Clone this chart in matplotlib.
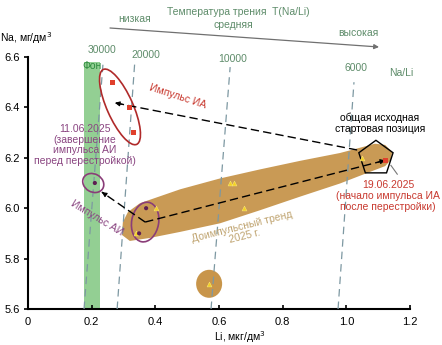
import matplotlib
matplotlib.use("Agg")
import matplotlib.pyplot as plt
from matplotlib.patches import Ellipse, Polygon, RegularPolygon, Rectangle
from matplotlib.transforms import ScaledTranslation

plt.rcParams['font.family'] = ['Liberation Sans', 'DejaVu Sans']

# --- data ---
ia_li = [0.264, 0.320, 0.330, 1.122]          # pulse IA, red squares
ia_na = [6.50, 6.40, 6.30, 6.19]
ai_li = [0.371, 0.349, 0.210]                 # pulse AI, purple dots
ai_na = [6.00, 5.90, 6.10]
pre_li = [0.402, 0.339, 0.633, 0.648, 0.679, 1.050, 0.569]   # pre-pulse trend, yellow triangles
pre_na = [6.00, 5.90, 6.10, 6.10, 6.00, 6.20, 5.70]

ratio_labels = ['30000', '20000', '10000', '6000']
ratio_bottom_li = [0.176, 0.280, 0.575, 0.974]
ratio_top_li = [0.236, 0.336, 0.635, 1.024]
ratio_top_na = [6.58, 6.59, 6.56, 6.50]

bg_li = (0.176, 0.226)                        # "Фон" band
bg_na_top = 6.58

trend_band_li = [0.314, 0.352, 0.478, 0.603, 0.729, 0.855, 0.980, 1.043, 1.090,
                 1.122, 1.144, 1.140, 1.122, 1.074, 0.980, 0.855, 0.729, 0.603, 0.478,
                 0.383, 0.320, 0.295, 0.298]
trend_band_na = [5.985, 6.020, 6.075, 6.118, 6.154, 6.188, 6.219, 6.240, 6.256,
                 6.251, 6.223, 6.191, 6.167, 6.144, 6.098, 6.046, 5.992, 5.940, 5.906,
                 5.882, 5.870, 5.894, 5.945]

x_ticks = [0, 0.2, 0.4, 0.6, 0.8, 1.0, 1.2]
x_ticklabels = ['0', '0.2', '0.4', '0.6', '0.8', '1.0', '1.2']
y_ticks = [5.6, 5.8, 6.0, 6.2, 6.4, 6.6]
y_ticklabels = ['5.6', '5.8', '6.0', '6.2', '6.4', '6.6']

W, H = 442, 345
fig = plt.figure(figsize=(W / 100, H / 100), dpi=100)
ax = fig.add_axes([28 / W, 1 - 309 / H, 382 / W, 252 / H])
ax.set_xlim(0, 1.2)
ax.set_ylim(5.6, 6.6)

def px(x, y):
    return x / W, 1 - y / H

def at(x, y):
    # translation to a data point, sizes then in pixels
    return ScaledTranslation(x, y, ax.transData)

fs = 7.5
green = '#93cf93'
red = '#c8392f'
purple = '#8a4581'
tan = '#c99a55'
iso_col = '#7d98a2'
label_green = '#5e8c6a'

# background band
ax.add_patch(Rectangle((bg_li[0], 5.6), bg_li[1] - bg_li[0], bg_na_top - 5.6,
                       color=green, lw=0, zorder=1))
ax.text(sum(bg_li) / 2, 6.565, 'Фон', color='#2e8b3e', fontsize=fs,
        ha='center', va='center', zorder=6)

# pre-pulse trend band and the blob
ax.add_patch(Polygon(list(zip(trend_band_li, trend_band_na)), closed=True,
                     fc=tan, ec='none', zorder=2))
ax.add_patch(Ellipse((0, 0), 26, 28, fc='#c8954a', ec='none',
                     transform=at(pre_li[6], pre_na[6]), zorder=2))

# iso Na/Li lines
for i in range(len(ratio_labels)):
    ax.plot([ratio_bottom_li[i], ratio_top_li[i]], [5.6, ratio_top_na[i]],
            color=iso_col, lw=0.9, dashes=(6, 4), zorder=3, clip_on=False)

# outlines
ax.add_patch(Ellipse((0, 0), 82, 26, angle=-66, fc='none', ec='#b02a2a', lw=1.2,
                     transform=at(0.289, 6.402), zorder=4))
ax.add_patch(Ellipse((0, 0), 40, 27, angle=80, fc='none', ec='#8a3d78', lw=1.2,
                     transform=at(0.368, 5.945), zorder=4))
ax.add_patch(Ellipse((0, 0), 22, 18, angle=-30, fc='none', ec='#8a3d78', lw=1.2,
                     transform=at(0.205, 6.10), zorder=4))
ax.add_patch(RegularPolygon((0, 0), 5, radius=18, orientation=0.0, fc='none',
                            ec='black', lw=1.0, transform=at(1.093, 6.198), zorder=5))
ax.plot([1.14, 1.16], [6.17, 6.135], color='#777777', lw=0.8, zorder=5)

# dashed arrows
def dashed_arrow(x0, y0, x1, y1):
    ax.plot([x0, x1], [y0, y1], color='black', lw=1.0, dashes=(6, 3), zorder=5)
    ax.annotate('', xy=(x1, y1), xytext=(x0 + 0.97 * (x1 - x0), y0 + 0.97 * (y1 - y0)),
                arrowprops=dict(arrowstyle='-|>', color='black', lw=0.8,
                                mutation_scale=7, shrinkA=0, shrinkB=0), zorder=5)

dashed_arrow(0.368, 5.945, ia_li[3], ia_na[3])
dashed_arrow(0.368, 5.945, 0.232, 6.064)
dashed_arrow(1.034, 6.231, 0.273, 6.418)

# points
ax.scatter(pre_li, pre_na, marker='^', s=12, c='#f4d21f', edgecolors='#f7e27a',
           linewidths=0.4, zorder=6)
ax.scatter(ia_li, ia_na, marker='s', s=13, c='#e0402c', edgecolors='none', zorder=6)
ax.scatter(ai_li, ai_na, marker='o', s=9, c='#5e1e52', edgecolors='none', zorder=6)

# axes style
for side in ['top', 'right']:
    ax.spines[side].set_visible(False)
ax.spines['left'].set_linewidth(1.5)
ax.spines['bottom'].set_linewidth(1.5)
ax.set_xticks(x_ticks)
ax.set_xticklabels(x_ticklabels)
ax.set_yticks(y_ticks)
ax.set_yticklabels(y_ticklabels)
ax.tick_params(axis='x', direction='in', length=3, width=1.2, labelsize=8, pad=6)
ax.tick_params(axis='y', direction='out', length=3, width=1.2, labelsize=8, pad=3)

# in-plot texts
ax.text(*px(178, 96), 'Импульс ИА', transform=fig.transFigure, color=red,
        fontsize=fs, rotation=-18, ha='center', va='center', zorder=7)
ax.text(*px(97, 218), 'Импульс АИ', transform=fig.transFigure, color=purple,
        fontsize=fs, rotation=-31, ha='center', va='center', zorder=7)
ax.text(*px(85, 145), '11.06.2025\n(завершение\nимпульса АИ\nперед перестройкой)',
        transform=fig.transFigure, color=purple, fontsize=fs, ha='center', va='center',
        linespacing=1.1, zorder=7)
ax.text(*px(243, 231), 'Доимпульсный тренд\n2025 г.', transform=fig.transFigure,
        color='#bfa36f', fontsize=fs, rotation=14, ha='center', va='center',
        rotation_mode='anchor', linespacing=1.0, zorder=7)
ax.text(*px(380, 123), 'общая исходная\nстартовая позиция', transform=fig.transFigure,
        color='black', fontsize=fs, ha='center', va='center', linespacing=1.1, zorder=7)
ax.text(*px(388, 196), '19.06.2025\n(начало импульса ИА\nпосле перестройки)',
        transform=fig.transFigure, color=red, fontsize=fs, ha='center', va='center',
        linespacing=1.1, zorder=7)

# ratio labels over the iso lines
ratio_label_pos = [(102, 50), (146, 55), (233, 59), (356, 68)]
for lab, (lx, ly) in zip(ratio_labels, ratio_label_pos):
    fig.text(*px(lx, ly), lab, color=label_green, fontsize=fs, ha='center', va='center')
fig.text(*px(401, 73), 'Na/Li', color=label_green, fontsize=fs, ha='center', va='center')

# temperature header
fig.text(*px(238, 12), 'Температура трения  T(Na/Li)', color=label_green, fontsize=fs,
         ha='center', va='center')
fig.text(*px(135, 19), 'низкая', color=label_green, fontsize=fs, ha='center', va='center')
fig.text(*px(233, 25), 'средняя', color=label_green, fontsize=fs, ha='center', va='center')
fig.text(*px(358, 33), 'высокая', color=label_green, fontsize=fs, ha='center', va='center')
ax.annotate('', xy=px(379, 47), xytext=px(110, 28), xycoords='figure fraction',
            textcoords='figure fraction',
            arrowprops=dict(arrowstyle='-|>', color='#707070', lw=0.9, mutation_scale=7,
                            shrinkA=0, shrinkB=0))

# axis titles
fig.text(*px(0, 38), 'Na, мг/дм$^3$', fontsize=fs, ha='left', va='center')
fig.text(*px(240, 337), 'Li, мкг/дм$^3$', fontsize=fs, ha='center', va='center')

fig.savefig('out.png', dpi=100)
